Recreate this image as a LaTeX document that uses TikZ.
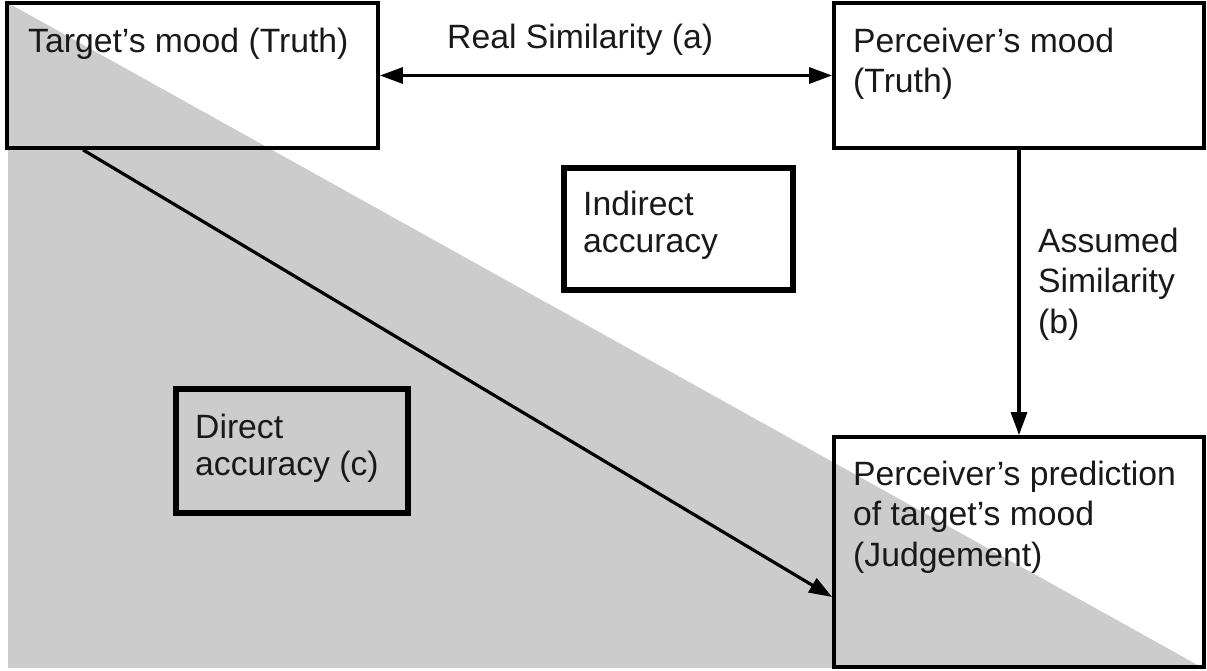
\documentclass[tikz,border=0pt]{standalone}
\usepackage{fontspec}
\setmainfont{Liberation Sans}
\usetikzlibrary{arrows.meta,calc}
\begin{document}
\begin{tikzpicture}[x=1pt,y=-1pt,
  box/.style={draw=black,line width=3.8pt,inner sep=0pt,rectangle},
  accbox/.style={draw=black,line width=5.5pt,inner sep=0pt,rectangle},
  lbl/.style={anchor=base west,inner sep=0pt,align=left,text=black!90,font=\fontsize{33.7}{40.5}\selectfont},
  lbltight/.style={lbl,font=\fontsize{33.7}{37}\selectfont},
  conn/.style={line width=3.2pt,-{Triangle[length=23pt,width=16pt]}},
  dconn/.style={line width=3.2pt,{Triangle[length=23pt,width=16pt]}-{Triangle[length=23pt,width=16pt]}},
]
\useasboundingbox (0,0) rectangle (1207,670);
\fill[gray!40] (8,3) -- (1203,668) -- (8,668) -- cycle;

\node[box,minimum width=371pt,minimum height=145pt] (tgt) at (192.5,75.5) {};
\node[box,minimum width=370pt,minimum height=145pt] (pm) at (1019,75.5) {};
\node[box,minimum width=370pt,minimum height=230pt] (pred) at (1019,552) {};
\node[accbox,minimum width=229pt,minimum height=122pt] (ind) at (678.5,229) {};
\node[accbox,minimum width=232pt,minimum height=124pt] (dir) at (292,451) {};

% multi-line nodes: base anchor lies on the last line
\node[lbl] (tT) at (28,52) {Target’s mood (Truth)};
\node[lbl] (tP) at (853,92.5) {Perceiver’s mood\\(Truth)};
\node[lbl] (tJ) at (853,566) {Perceiver’s prediction\\of target’s mood\\(Judgement)};
\node[lbltight] (tI) at (583,252) {Indirect\\accuracy};
\node[lbltight] (tD) at (195,475) {Direct\\accuracy (c)};
\node[lbl] (tA) at (1038,333) {Assumed\\Similarity\\(b)};
\node[lbl] (tR) at (447,48) {Real Similarity (a)};

\draw[dconn] (tgt.east) -- (pm.west);
\draw[conn] (pm.south) -- (pred.north);
\draw[conn] ([xshift=78pt]tgt.south west) -- ([yshift=-45pt]pred.west);
\end{tikzpicture}
\end{document}
